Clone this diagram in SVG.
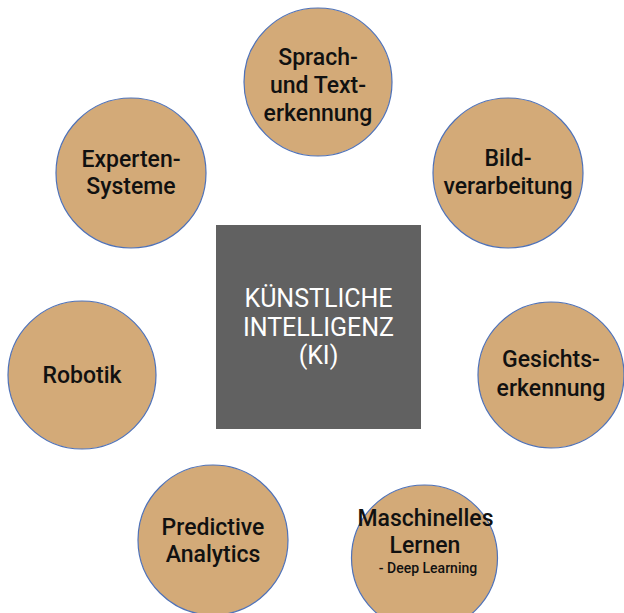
<svg xmlns="http://www.w3.org/2000/svg" width="624" height="613" viewBox="0 0 624 613">
<style>
.c{fill:#D3AA78;stroke:#4F72B8;stroke-width:1.2}
.t{font-family:Roboto,"Liberation Sans",sans-serif;font-size:23px;font-weight:500;fill:#111;text-anchor:middle}
.s{font-size:14px}
.w{fill:#fff;font-size:25px;font-weight:400}
</style>
<rect width="624" height="613" fill="#fff"/>
<g id="connectors"/>
<g id="ki">
<rect x="216" y="225" width="205" height="204" fill="#616161"/>
<text class="t w" x="318.5" y="307">KÜNSTLICHE</text>
<text class="t w" x="318.5" y="336">INTELLIGENZ</text>
<text class="t w" x="318.5" y="364">(KI)</text>
</g>
<g id="sprach">
<circle class="c" cx="318" cy="82" r="74"/>
<text class="t" x="318" y="65">Sprach-</text>
<text class="t" x="318" y="93">und Text-</text>
<text class="t" x="318" y="121">erkennung</text>
</g>
<g id="bild">
<circle class="c" cx="508" cy="173" r="75"/>
<text class="t" x="508" y="166">Bild-</text>
<text class="t" x="508" y="194">verarbeitung</text>
</g>
<g id="gesicht">
<circle class="c" cx="551" cy="375" r="73"/>
<text class="t" x="551" y="367">Gesichts-</text>
<text class="t" x="551" y="396">erkennung</text>
</g>
<g id="ml">
<circle class="c" cx="424.5" cy="558" r="73"/>
<text class="t" x="425.5" y="526">Maschinelles</text>
<text class="t" x="425" y="553">Lernen</text>
<text class="t s" x="428" y="573">- Deep Learning</text>
</g>
<g id="predictive">
<circle class="c" cx="213" cy="540" r="75"/>
<text class="t" x="213" y="535">Predictive</text>
<text class="t" x="213" y="562">Analytics</text>
</g>
<g id="robotik">
<circle class="c" cx="82" cy="375" r="74"/>
<text class="t" x="82" y="383">Robotik</text>
</g>
<g id="experten">
<circle class="c" cx="131" cy="173" r="75"/>
<text class="t" x="131" y="167">Experten-</text>
<text class="t" x="131" y="194">Systeme</text>
</g>
</svg>
